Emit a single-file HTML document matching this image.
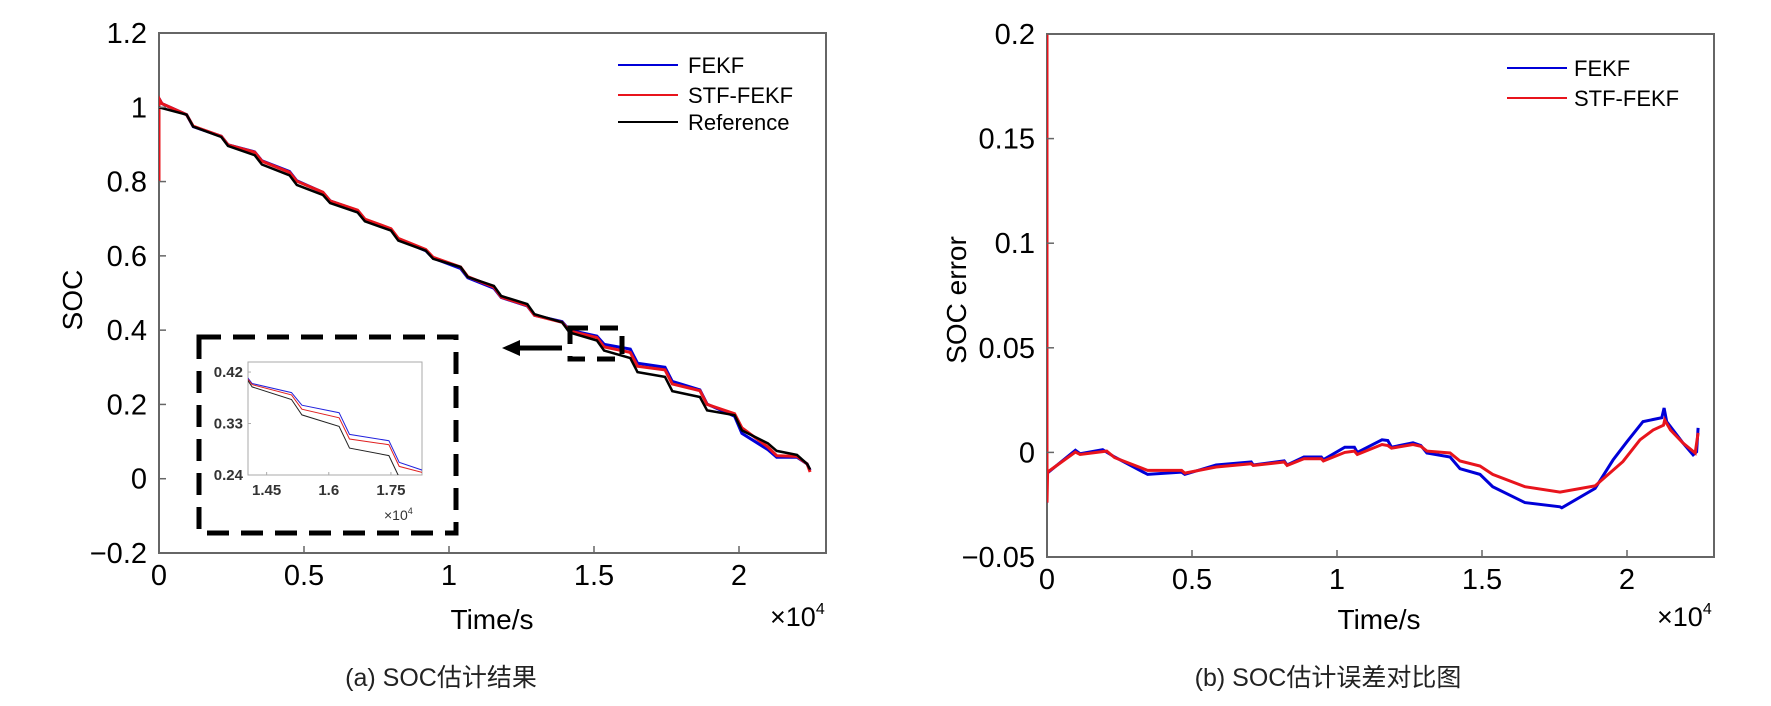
<!DOCTYPE html>
<html><head><meta charset="utf-8"><style>
html,body{margin:0;padding:0;background:#fff;}
svg{display:block;font-family:"Liberation Sans","Noto Sans CJK SC",sans-serif;}
</style></head><body>
<svg id="fig" width="1771" height="706" viewBox="0 0 1771 706" xmlns="http://www.w3.org/2000/svg">
<defs>
<clipPath id="clipL"><rect x="159" y="33" width="667" height="520"/></clipPath>
<clipPath id="clipI"><rect x="248" y="362" width="174" height="113"/></clipPath>
<clipPath id="clipR"><rect x="1047" y="34" width="667" height="523"/></clipPath>
</defs>
<g id="left"></g>
<g id="right"></g>
</svg>
<script>
// ---- Left chart data (time in 1e4 s) ----
const refT = [0,0.095,0.118,0.215,0.238,0.33,0.355,0.45,0.475,0.565,0.59,0.685,0.71,0.8,0.825,0.92,0.945,1.04,1.065,1.155,1.18,1.27,1.295,1.39,1.415,1.51,1.535,1.625,1.65,1.745,1.77,1.865,1.89,1.985,2.01,2.1,2.13,2.2,2.235,2.245];
const refSOC = [1.0,0.980,0.948,0.920,0.896,0.871,0.846,0.817,0.791,0.764,0.742,0.717,0.693,0.668,0.641,0.614,0.592,0.570,0.543,0.519,0.492,0.470,0.443,0.421,0.394,0.372,0.345,0.325,0.287,0.274,0.236,0.220,0.184,0.171,0.130,0.095,0.075,0.064,0.040,0.025];
const stfT = [0,0,0.01,0.095,0.118,0.215,0.238,0.33,0.355,0.45,0.475,0.565,0.59,0.685,0.71,0.8,0.825,0.92,0.945,1.04,1.065,1.155,1.18,1.27,1.295,1.39,1.415,1.51,1.535,1.625,1.65,1.745,1.77,1.865,1.89,1.985,2.01,2.1,2.13,2.2,2.235,2.245];
const stfSOC = [0.8,1.024,1.01,0.980,0.949,0.922,0.899,0.879,0.855,0.825,0.801,0.771,0.748,0.723,0.699,0.673,0.647,0.617,0.596,0.570,0.544,0.516,0.489,0.466,0.440,0.421,0.398,0.380,0.355,0.340,0.303,0.293,0.255,0.237,0.200,0.175,0.137,0.085,0.062,0.060,0.040,0.018];
const fekfT = [0,0.01,0.095,0.118,0.215,0.238,0.33,0.355,0.45,0.475,0.565,0.59,0.685,0.71,0.8,0.825,0.92,0.945,1.04,1.065,1.155,1.18,1.27,1.295,1.39,1.415,1.51,1.535,1.625,1.65,1.745,1.77,1.865,1.89,1.985,2.01,2.1,2.13,2.2,2.235,2.245];
const fekfSOC = [1.024,1.01,0.980,0.948,0.922,0.899,0.880,0.856,0.827,0.802,0.771,0.748,0.722,0.698,0.672,0.645,0.614,0.594,0.566,0.541,0.513,0.488,0.465,0.440,0.423,0.400,0.384,0.362,0.349,0.311,0.300,0.262,0.239,0.201,0.168,0.122,0.078,0.058,0.058,0.040,0.022];
const leftXTicks = [0,0.5,1,1.5,2];
const leftXLabels = ["0","0.5","1","1.5","2"];
const leftYTicks = [-0.2,0,0.2,0.4,0.6,0.8,1,1.2];
const leftYLabels = ["\u22120.2","0","0.2","0.4","0.6","0.8","1","1.2"];
const insetXTicks = [1.45,1.6,1.75];
const insetXLabels = ["1.45","1.6","1.75"];
const insetYTicks = [0.24,0.33,0.42];
const insetYLabels = ["0.24","0.33","0.42"];
// ---- Right chart data ----
const errFekfT = [0,0,0.098,0.114,0.192,0.233,0.347,0.464,0.475,0.583,0.704,0.711,0.818,0.828,0.886,0.946,0.953,1.027,1.06,1.07,1.155,1.175,1.188,1.262,1.289,1.31,1.39,1.424,1.493,1.537,1.648,1.769,1.775,1.89,1.952,2.0,2.055,2.12,2.128,2.137,2.193,2.228,2.24,2.245];
const errFekf = [-0.024,-0.010,0.001,-0.0006,0.0013,-0.0022,-0.0105,-0.0094,-0.0105,-0.006,-0.0046,-0.006,-0.004,-0.006,-0.0022,-0.0022,-0.0035,0.0025,0.0025,0,0.006,0.0057,0.0025,0.0046,0.0033,-0.0003,-0.0022,-0.0078,-0.0105,-0.0164,-0.024,-0.026,-0.0265,-0.0172,-0.0036,0.0051,0.0147,0.0166,0.0212,0.0147,0.0045,-0.0012,0.0003,0.0117];
const errStfT = [0,0,0.002,0.098,0.114,0.206,0.233,0.347,0.464,0.475,0.583,0.704,0.711,0.818,0.828,0.886,0.946,0.953,1.027,1.06,1.07,1.155,1.175,1.188,1.262,1.289,1.31,1.39,1.424,1.493,1.537,1.648,1.769,1.89,1.986,2.045,2.09,2.126,2.13,2.15,2.193,2.235,2.245];
const errStf = [0.2,-0.024,-0.0094,0.0002,-0.001,0.0006,-0.0025,-0.0086,-0.0086,-0.0099,-0.007,-0.0054,-0.0062,-0.0046,-0.0062,-0.003,-0.003,-0.0041,0,0.0006,-0.001,0.0038,0.0033,0.002,0.0038,0.0029,0.0006,-0.0003,-0.0041,-0.0065,-0.0105,-0.0164,-0.019,-0.016,-0.0044,0.006,0.0107,0.013,0.0155,0.0107,0.0045,-0.0003,0.0093];
const rightXTicks = [0,0.5,1,1.5,2];
const rightXLabels = ["0","0.5","1","1.5","2"];
const rightYTicks = [-0.05,0,0.05,0.1,0.15,0.2];
const rightYLabels = ["\u22120.05","0","0.05","0.1","0.15","0.2"];

const NS = "http://www.w3.org/2000/svg";
function mk(parent, tag, attrs, text){
  const e = document.createElementNS(NS, tag);
  for (const k in attrs) e.setAttribute(k, attrs[k]);
  if (text !== undefined) e.textContent = text;
  parent.appendChild(e);
  return e;
}
// axis functions
const lx = t => 159 + t * 290;
const ly = v => 553 - (v + 0.2) * 371.43;
const ix = t => 248 + (t - 1.405) / 0.42 * 174;
const iy = v => 475 - (v - 0.24) * 572;
const rx = t => 1047 + t * 290;
const ry = v => 452.4 - v * 2092;
function pts(ts, vs, fx, fy){ return ts.map((t,i)=>fx(t).toFixed(1)+","+fy(vs[i]).toFixed(1)).join(" "); }

// ===== LEFT =====
const L = document.getElementById("left");
let e;
e = mk(L,"rect",{x:159,y:33,width:667,height:520,fill:"#fff",stroke:"#666","stroke-width":2});
 
const lLines = mk(L,"g",{"clip-path":"url(#clipL)"});
e = mk(lLines,"polyline",{points:pts(fekfT,fekfSOC,lx,ly),fill:"none",stroke:"#0000d8","stroke-width":3});
 
e = mk(lLines,"polyline",{points:pts(stfT,stfSOC,lx,ly),fill:"none",stroke:"#e8141c","stroke-width":3});
 
e = mk(lLines,"polyline",{points:pts(refT,refSOC,lx,ly),fill:"none",stroke:"#000","stroke-width":2.5});
 
leftXTicks.forEach((t,i)=>{
  mk(L,"line",{x1:lx(t),x2:lx(t),y1:553,y2:546,stroke:"#666","stroke-width":1.5});
  e = mk(L,"text",{x:lx(t),y:585,"font-size":29,"text-anchor":"middle"},leftXLabels[i]);
   
});
leftYTicks.forEach((v,i)=>{
  mk(L,"line",{x1:159,x2:166,y1:ly(v),y2:ly(v),stroke:"#666","stroke-width":1.5});
  e = mk(L,"text",{x:147,y:ly(v)+10,"font-size":29,"text-anchor":"end"},leftYLabels[i]);
   
});
e = mk(L,"text",{x:492,y:629,"font-size":28,"text-anchor":"middle"},"Time/s");
 
e = mk(L,"text",{x:770,y:626,"font-size":27},"\u00d710");
 
mk(e,"tspan",{"font-size":16,dy:-12},"4");
e = mk(L,"text",{x:0,y:0,"font-size":28,"text-anchor":"middle",transform:"translate(82,300) rotate(-90)"},"SOC");
 
// legend
const leg = [["FEKF","#0000d8",65],["STF-FEKF","#e8141c",95],["Reference","#000",122]];
leg.forEach(l=>{
  const g = mk(L,"g",{});
   
  mk(g,"line",{x1:618,x2:678,y1:l[2],y2:l[2],stroke:l[1],"stroke-width":2});
  mk(g,"text",{x:688,y:l[2]+8,"font-size":22},l[0]);
});
// zoom box, arrow
e = mk(L,"rect",{x:570,y:328,width:52,height:31,fill:"none",stroke:"#000","stroke-width":5,"stroke-dasharray":"18 12"});
 
e = mk(L,"g",{});
 
mk(e,"line",{x1:562,x2:516,y1:348,y2:348,stroke:"#000","stroke-width":5});
mk(e,"polygon",{points:"502,348 520,340 520,356",fill:"#000"});
e = mk(L,"rect",{x:199,y:337,width:257,height:196,fill:"none",stroke:"#000","stroke-width":5,"stroke-dasharray":"22 12"});
 
// inset
const I = mk(L,"g",{});
 
mk(I,"rect",{x:248,y:362,width:174,height:113,fill:"#fff",stroke:"#aaa","stroke-width":1});
const iLines = mk(I,"g",{"clip-path":"url(#clipI)"});
e = mk(iLines,"polyline",{points:pts(fekfT,fekfSOC,ix,iy),fill:"none",stroke:"#2222dd","stroke-width":1});
 
e = mk(iLines,"polyline",{points:pts(stfT,stfSOC,ix,iy),fill:"none",stroke:"#e02020","stroke-width":1});
 
e = mk(iLines,"polyline",{points:pts(refT,refSOC,ix,iy),fill:"none",stroke:"#222","stroke-width":1});
 
insetXTicks.forEach((t,i)=>{
  mk(I,"line",{x1:ix(t),x2:ix(t),y1:475,y2:472,stroke:"#aaa"});
  e = mk(I,"text",{x:ix(t),y:495,"font-size":15,"font-weight":"bold","text-anchor":"middle",fill:"#333"},insetXLabels[i]);
   
});
insetYTicks.forEach((v,i)=>{
  mk(I,"line",{x1:248,x2:251,y1:iy(v),y2:iy(v),stroke:"#aaa"});
  e = mk(I,"text",{x:243,y:iy(v)+5,"font-size":15,"font-weight":"bold","text-anchor":"end",fill:"#333"},insetYLabels[i]);
   
});
e = mk(I,"text",{x:384,y:520,"font-size":14,fill:"#333"},"\u00d710");
 
mk(e,"tspan",{"font-size":9,dy:-6},"4");
e = mk(L,"text",{x:441,y:686,"font-size":25,"text-anchor":"middle",fill:"#222"},"(a) SOC估计结果");
 

// ===== RIGHT =====
const R = document.getElementById("right");
e = mk(R,"rect",{x:1047,y:34,width:667,height:523,fill:"#fff",stroke:"#666","stroke-width":2});
 
const rLines = mk(R,"g",{"clip-path":"url(#clipR)"});
e = mk(rLines,"polyline",{points:pts(errFekfT,errFekf,rx,ry),fill:"none",stroke:"#0000d8","stroke-width":3});
 
e = mk(rLines,"polyline",{points:pts(errStfT,errStf,rx,ry),fill:"none",stroke:"#e8141c","stroke-width":3});
 
rightXTicks.forEach((t,i)=>{
  mk(R,"line",{x1:rx(t),x2:rx(t),y1:557,y2:550,stroke:"#666","stroke-width":1.5});
  e = mk(R,"text",{x:rx(t),y:589,"font-size":29,"text-anchor":"middle"},rightXLabels[i]);
   
});
rightYTicks.forEach((v,i)=>{
  mk(R,"line",{x1:1047,x2:1054,y1:ry(v),y2:ry(v),stroke:"#666","stroke-width":1.5});
  e = mk(R,"text",{x:1035,y:ry(v)+10,"font-size":29,"text-anchor":"end"},rightYLabels[i]);
   
});
e = mk(R,"text",{x:1379,y:629,"font-size":28,"text-anchor":"middle"},"Time/s");
 
e = mk(R,"text",{x:1657,y:626,"font-size":27},"\u00d710");
 
mk(e,"tspan",{"font-size":16,dy:-12},"4");
e = mk(R,"text",{x:0,y:0,"font-size":28,"text-anchor":"middle",transform:"translate(966,300) rotate(-90)"},"SOC error");
 
const leg2 = [["FEKF","#0000d8",68],["STF-FEKF","#e8141c",98]];
leg2.forEach(l=>{
  const g = mk(R,"g",{});
   
  mk(g,"line",{x1:1507,x2:1567,y1:l[2],y2:l[2],stroke:l[1],"stroke-width":2});
  mk(g,"text",{x:1574,y:l[2]+8,"font-size":22},l[0]);
});
e = mk(R,"text",{x:1328,y:686,"font-size":25,"text-anchor":"middle",fill:"#222"},"(b) SOC估计误差对比图");
 
</script>
</body></html>
